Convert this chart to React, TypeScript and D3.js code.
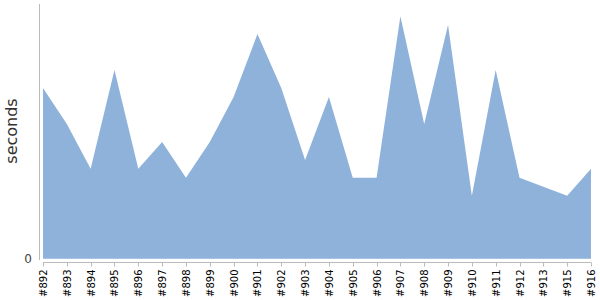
import React from "react";
import * as d3 from "d3";

const categories = ["#892","#893","#894","#895","#896","#897","#898","#899","#900","#901","#902","#903","#904","#905","#906","#907","#908","#909","#910","#911","#912","#913","#915","#916"];
const seconds = [19,15,10,21,10,13,9,13,18,25,19,11,18,9,9,27,15,26,7,21,9,8,7,10];
const yTicks = [0];

export default function App() {
  const W = 600, H = 300;
  const x = d3.scalePoint<string>().domain(categories).range([43, 591]);
  const maxV = d3.max(seconds) as number;
  const y = d3.scaleLinear().domain([0, maxV * 1.05]).range([258.7, 4]);
  const area = d3.area<number>()
    .x((_, i) => x(categories[i]) as number)
    .y0(y(0))
    .y1((d) => y(d));
  const axisY = 262.5;
  return (
    <svg width={W} height={H} style={{ position: "absolute", left: 0, top: 0, fontFamily: "DejaVu Sans" }}>
      <path d={area(seconds) || ""} fill="#8fb2db" />
      <line x1={39.5} x2={39.5} y1={4} y2={260} stroke="#bbb" strokeWidth={1} />
      {yTicks.map((t) => (
        <text key={t} x={32} y={y(t)} dy="0.35em" textAnchor="end" fontSize={12} fill="#444">{t}</text>
      ))}
      <line x1={43} x2={591} y1={axisY} y2={axisY} stroke="#bbb" strokeWidth={1} />
      {categories.map((c) => {
        const cx = Math.round(x(c) as number) + 0.5;
        return (
          <g key={c}>
            <line x1={cx} x2={cx} y1={axisY} y2={axisY + 4} stroke="#bbb" strokeWidth={1} />
            <text transform={`translate(${cx + 3.5},${axisY + 7}) rotate(-90)`} textAnchor="end" fontSize={10} fill="#000">{c}</text>
          </g>
        );
      })}
      <text transform="translate(17,131) rotate(-90)" textAnchor="middle" fontSize={16} fill="#333">seconds</text>
    </svg>
  );
}
